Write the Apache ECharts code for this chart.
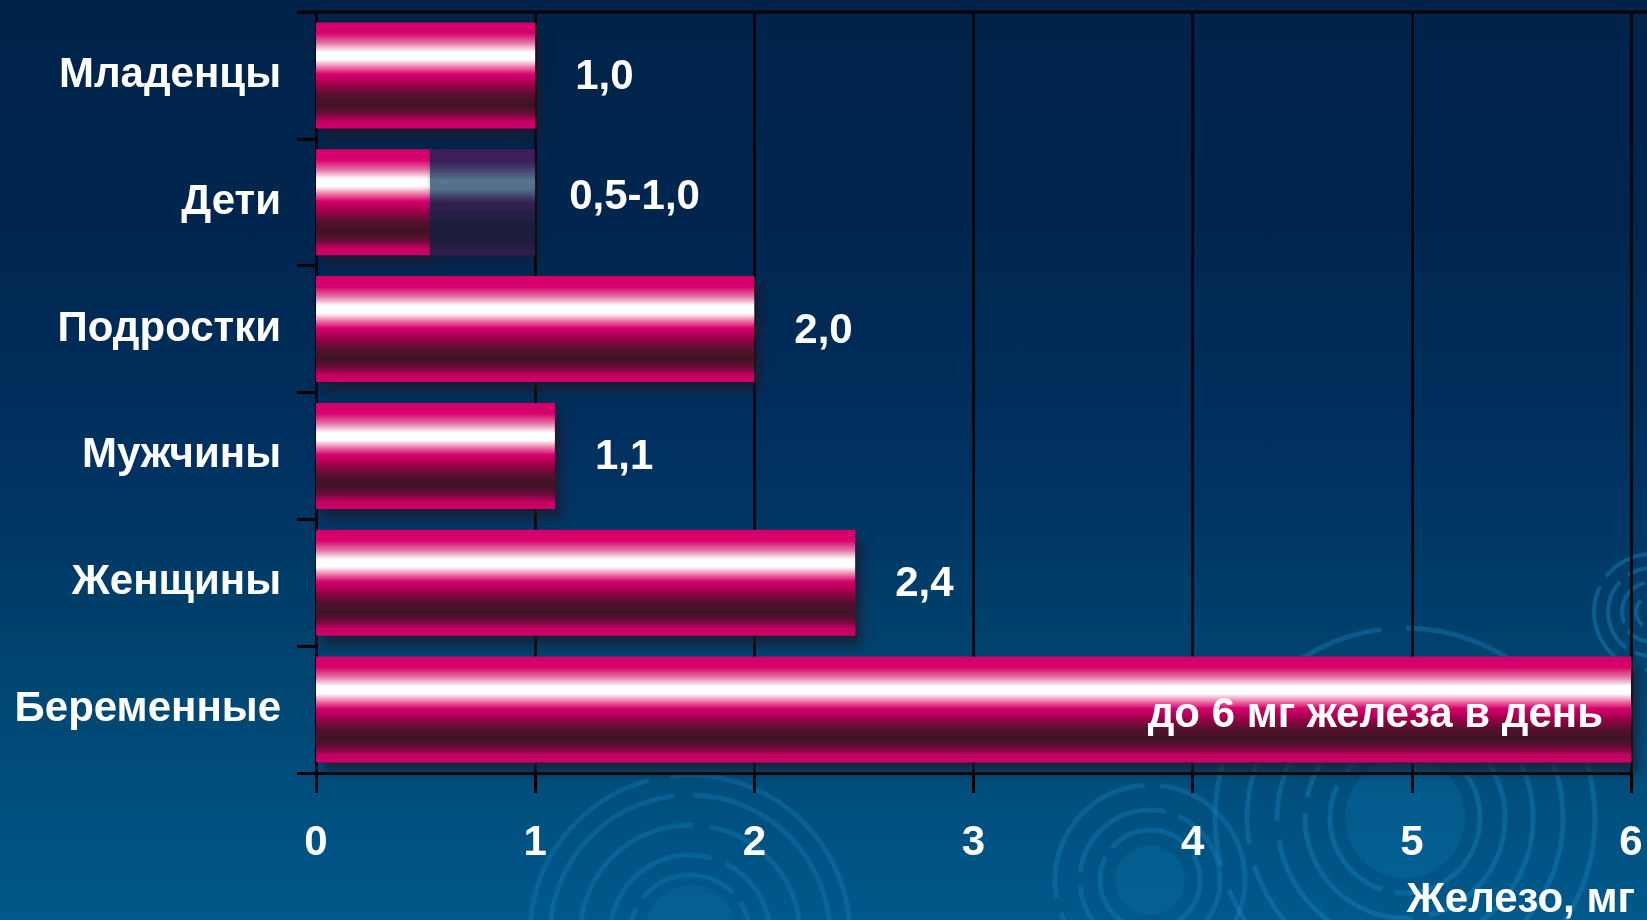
<!DOCTYPE html>
<html>
<head>
<meta charset="utf-8">
<script src="https://cdn.jsdelivr.net/npm/echarts@6/dist/echarts.min.js"></script>
<style>
html,body{margin:0;padding:0;}
#chart{width:1647px;height:920px;background:linear-gradient(180deg,#00234a 0%,#00264f 25%,#003160 50%,#00446f 72%,#00598b 100%);}
</style>
</head>
<body>
<div id="chart"></div>
<script>
const categories = ['Младенцы', 'Дети', 'Подростки', 'Мужчины', 'Женщины', 'Беременные'];
const values = [1.0, 0.52, 2.0, 1.09, 2.46, 6.0];
const rangeExtra = [null, 0.48, null, null, null, null];
const valueLabels = ['1,0', '0,5-1,0', '2,0', '1,1', '2,4', 'до 6 мг железа в день'];
const xTicks = [0, 1, 2, 3, 4, 5, 6];
const axisName = 'Железо, мг';

const FONT = '"Liberation Sans", Arial, sans-serif';
const xMin = xTicks[0], xMax = xTicks[xTicks.length - 1];

const barGrad = {
  type: 'linear', x: 0, y: 0, x2: 0, y2: 1,
  colorStops: [
    {offset: 0, color: '#d3006a'},
    {offset: 0.10, color: '#d8006c'},
    {offset: 0.19, color: '#e36ea2'},
    {offset: 0.28, color: '#ffffff'},
    {offset: 0.35, color: '#ffffff'},
    {offset: 0.42, color: '#ee7aaa'},
    {offset: 0.49, color: '#d6006b'},
    {offset: 0.58, color: '#a2004c'},
    {offset: 0.68, color: '#581030'},
    {offset: 0.78, color: '#3c1423'},
    {offset: 0.86, color: '#6a0b38'},
    {offset: 0.93, color: '#c2005f'},
    {offset: 1, color: '#d0006a'}
  ]
};
const fadeGrad = {
  type: 'linear', x: 0, y: 0, x2: 0, y2: 1,
  colorStops: [
    {offset: 0, color: 'rgba(70,30,95,0.85)'},
    {offset: 0.12, color: 'rgba(66,32,92,0.85)'},
    {offset: 0.30, color: 'rgba(96,128,150,0.9)'},
    {offset: 0.38, color: 'rgba(90,118,145,0.9)'},
    {offset: 0.50, color: 'rgba(60,32,88,0.85)'},
    {offset: 0.70, color: 'rgba(30,30,60,0.85)'},
    {offset: 0.85, color: 'rgba(30,28,58,0.85)'},
    {offset: 1, color: 'rgba(60,26,80,0.85)'}
  ]
};

const labelBase = {
  color: '#ffffff', fontFamily: FONT, fontWeight: 'bold', fontSize: 42
};

const baseData = values.map((v, i) => {
  const hasRange = rangeExtra[i] != null;
  const inside = v >= xMax;
  return {
    value: v,
    label: {
      show: !hasRange,
      position: inside ? 'insideRight' : 'right',
      distance: inside ? 28 : 40,
      offset: inside ? [0, 6] : [0, 2],
      formatter: valueLabels[i],
      ...labelBase
    }
  };
});
const rangeData = rangeExtra.map((v, i) => v == null ? '-' : {
  value: v,
  label: {show: true, position: 'right', distance: 34, offset: [0, -5], formatter: valueLabels[i], ...labelBase}
});

function rings(cx, cy, radii, w, op) {
  return radii.map((r, k) => ({
    type: 'circle', z: -10, silent: true,
    shape: {cx: cx, cy: cy, r: r},
    style: {fill: 'none', stroke: 'rgba(30,140,200,' + op + ')', lineWidth: w, lineDash: [r * 1.7, r * 0.1 + 6], lineDashOffset: k * 37}
  }));
}
const decor = [].concat(
  [{type: 'circle', z: -11, silent: true, shape: {cx: 1405, cy: 818, r: 60}, style: {fill: 'rgba(20,130,190,0.22)'}}],
  [{type: 'circle', z: -11, silent: true, shape: {cx: 1150, cy: 880, r: 35}, style: {fill: 'rgba(20,130,190,0.2)'}}],
  [{type: 'circle', z: -11, silent: true, shape: {cx: 690, cy: 930, r: 45}, style: {fill: 'rgba(20,130,190,0.18)'}}],
  rings(1405, 818, [75, 100, 128, 158, 190], 5, 0.33),
  rings(1150, 880, [50, 70, 95], 5, 0.3),
  rings(690, 935, [60, 80, 110, 140, 160], 5, 0.28),
  rings(1652, 612, [16, 30, 44, 58], 4, 0.4),
  [{type: 'line', z: 5, silent: true, shape: {x1: 297, y1: 12, x2: 1647, y2: 12}, style: {stroke: '#000000', lineWidth: 3}}]
);

const chart = echarts.init(document.getElementById('chart'));
chart.setOption({
  backgroundColor: 'transparent',
  animation: false,
  graphic: decor,
  grid: {left: 316, right: 16, top: 12, bottom: 147, containLabel: false, outerBoundsMode: 'none'},
  xAxis: {
    type: 'value', min: xMin, max: xMax, interval: 1,
    name: axisName, nameLocation: 'end', nameGap: 4,
    nameTextStyle: {color: '#fff', fontFamily: FONT, fontWeight: 'bold', fontSize: 42, align: 'right', verticalAlign: 'top', padding: [106, 0, 0, 0]},
    axisLine: {show: true, lineStyle: {color: '#000', width: 3}},
    axisTick: {show: true, length: 20, lineStyle: {color: '#000', width: 3}},
    splitLine: {show: true, lineStyle: {color: '#000', width: 2.5}},
    axisLabel: {color: '#fff', fontFamily: FONT, fontWeight: 'bold', fontSize: 42, margin: 49, formatter: v => String(v)}
  },
  yAxis: {
    type: 'category', data: categories, inverse: true,
    axisLine: {show: true, lineStyle: {color: '#000', width: 2}},
    axisTick: {show: true, length: 19, lineStyle: {color: '#000', width: 3}},
    axisLabel: {color: '#fff', fontFamily: FONT, fontWeight: 'bold', fontSize: 42, margin: 35}
  },
  series: [
    {
      type: 'bar', name: 'Норма', stack: 'a', data: baseData, barWidth: 106, z: 3,
      itemStyle: {color: barGrad, shadowColor: 'rgba(30,25,40,0.75)', shadowBlur: 10, shadowOffsetX: 6, shadowOffsetY: 9}
    },
    {
      type: 'bar', name: 'Диапазон', stack: 'a', data: rangeData, barWidth: 106, z: 3,
      itemStyle: {color: fadeGrad, shadowColor: 'rgba(30,25,40,0.5)', shadowBlur: 10, shadowOffsetX: 4, shadowOffsetY: 8}
    }
  ]
});
</script>
</body>
</html>
